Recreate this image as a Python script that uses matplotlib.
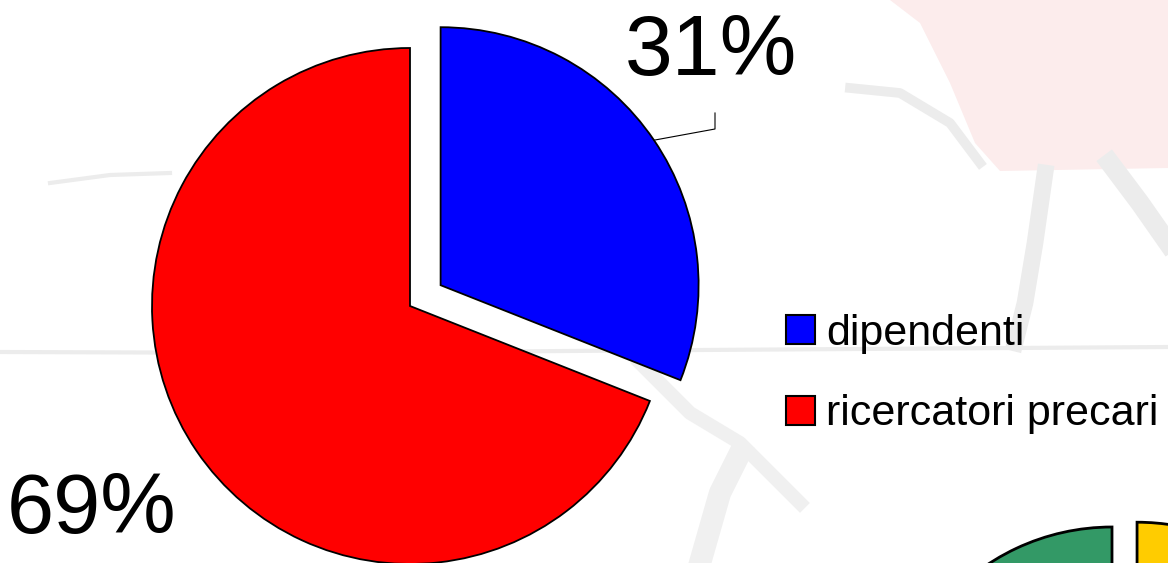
import numpy as np
import matplotlib.pyplot as plt

plt.rcParams['font.family'] = ['Liberation Sans', 'DejaVu Sans']

# main pie
categories = ["dipendenti", "ricercatori precari"]
shares = [31, 69]
colors = ["#0000ff", "#ff0000"]

# second pie, only its top edge fits in the frame
side_shares = [44, 56]
side_colors = ["#ffcc00", "#339966"]

W, H = 1168, 563
fig = plt.figure(figsize=(W / 100, H / 100), dpi=100)
ax = fig.add_axes([0, 0, 1, 1])

# faint backdrop strokes
ax.fill([890, 1168, 1168, 1000, 975, 950, 920], [563, 563, 395, 392, 420, 480, 540],
        color="#fcecec", lw=0, zorder=0)
bg = "#ececec"
ax.plot([0, 300, 700, 1168], [211, 210, 213, 216], color=bg, lw=3, zorder=0)
ax.plot([50, 110, 170], [380, 388, 390], color=bg, lw=3, zorder=0)
ax.plot([850, 900, 950, 980], [475, 470, 440, 400], color=bg, lw=7, zorder=0)
ax.plot([1045, 1035, 1025, 1015], [390, 320, 260, 220], color=bg, lw=12, zorder=0)
ax.plot([1110, 1140, 1168], [400, 360, 320], color=bg, lw=14, zorder=0)
ax.plot([640, 690, 740, 800], [200, 150, 120, 60], color="#f0f0f0", lw=10, zorder=0)
ax.plot([700, 720, 740], [0, 70, 110], color="#f0f0f0", lw=16, zorder=0)

r = 258
cx, cy = 410, 257
wedges, _ = ax.pie(shares, colors=colors, startangle=90, counterclock=False,
                   explode=[37, 0], radius=r, center=(cx, cy), frame=True,
                   wedgeprops=dict(edgecolor="black", linewidth=1.3))

# second pie, mostly below the bottom edge
r2 = 225
wedges2, _ = ax.pie(side_shares, colors=side_colors, startangle=90,
                    counterclock=False, explode=[25.5, 0], radius=r2,
                    center=(1112, -189), frame=True,
                    wedgeprops=dict(edgecolor="black", linewidth=2))
ax.set_xlim(0, W)
ax.set_ylim(0, H)
ax.set_aspect("equal")
ax.axis("off")

# percentage labels with a leader for the exploded slice
blue = wedges[0]
mid = np.deg2rad((blue.theta1 + blue.theta2) / 2)
bx, by = blue.center
p0 = (bx + r * np.cos(mid), by + r * np.sin(mid))
ax.plot([p0[0], 715, 715], [p0[1], 434, 450], color="black", lw=0.8)
ax.text(711, 510, f"{shares[0]}%", fontsize=62, ha="center", va="center")
ax.text(92, 52, f"{shares[1]}%", fontsize=61, ha="center", va="center")

leg = ax.legend(wedges, categories, loc="center left",
                bbox_to_anchor=(786, 189), bbox_transform=ax.transData,
                frameon=False, fontsize=31, handlelength=0.68,
                handleheight=0.68, handletextpad=0.25, labelspacing=0.95,
                borderpad=0, borderaxespad=0)
for h in leg.legend_handles:
    h.set_linewidth(1.5)

fig.savefig("out.png", dpi=100)
